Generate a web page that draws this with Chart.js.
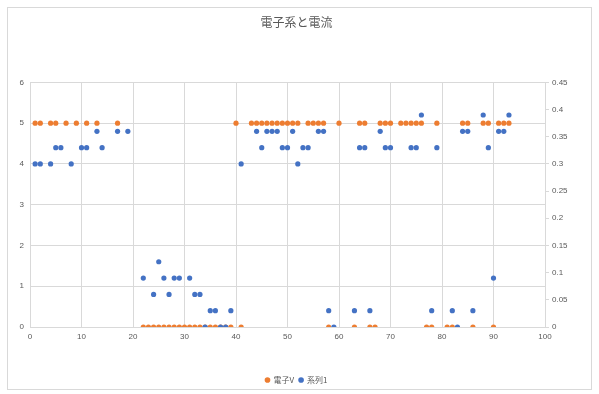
<!DOCTYPE html>
<html>
<head>
<meta charset="utf-8">
<script src="https://cdn.jsdelivr.net/npm/chart.js@4/dist/chart.umd.min.js"></script>
<style>
  html, body { margin: 0; padding: 0; background: #ffffff; }
  #wrap { width: 599px; height: 394px; position: relative; }
</style>
</head>
<body>
<div id="wrap"><canvas id="c" width="599" height="394"></canvas></div>
<script>
// 電子V (left axis)
const voltX = [1, 2, 4, 5, 7, 9, 11, 13, 17,
  22, 23, 24, 25, 26, 27, 28, 29, 30, 31, 32, 33, 34, 35, 36, 37, 38, 39,
  40, 41, 43, 44, 45, 46, 47, 48, 49, 50, 51, 52, 54, 55, 56, 57, 58, 60,
  63, 64, 65, 66, 67, 68, 69, 70, 72, 73, 74, 75, 76, 77, 78, 79,
  81, 82, 84, 85, 86, 88, 89, 90, 91, 92, 93];
const voltY = [5, 5, 5, 5, 5, 5, 5, 5, 5,
  0, 0, 0, 0, 0, 0, 0, 0, 0, 0, 0, 0, 0, 0, 0, 0, 0, 0,
  5, 0, 5, 5, 5, 5, 5, 5, 5, 5, 5, 5, 5, 5, 5, 5, 0, 5,
  0, 5, 5, 0, 0, 5, 5, 5, 5, 5, 5, 5, 5, 0, 0, 5,
  0, 0, 5, 5, 0, 5, 5, 0, 5, 5, 5];

// 系列1 (right axis)
const currX = [1, 2, 4, 5, 6, 8, 10, 11, 13, 14, 17, 19,
  22, 24, 25, 26, 27, 28, 29, 31, 32, 33, 34, 35, 36, 37, 38, 39,
  41, 44, 45, 46, 47, 48, 49, 50, 51, 52, 53, 54, 56, 57, 58, 59,
  63, 64, 65, 66, 68, 69, 70, 74, 75, 76, 78, 79,
  82, 83, 84, 85, 86, 88, 89, 90, 91, 92, 93];
const currY = [0.30, 0.30, 0.30, 0.33, 0.33, 0.30, 0.33, 0.33, 0.36, 0.33, 0.36, 0.36,
  0.09, 0.06, 0.12, 0.09, 0.06, 0.09, 0.09, 0.09, 0.06, 0.06, 0, 0.03, 0.03, 0, 0, 0.03,
  0.30, 0.36, 0.33, 0.36, 0.36, 0.36, 0.33, 0.33, 0.36, 0.30, 0.33, 0.33, 0.36, 0.36, 0.03, 0,
  0.03, 0.33, 0.33, 0.03, 0.36, 0.33, 0.33, 0.33, 0.33, 0.39, 0.03, 0.33,
  0.03, 0, 0.36, 0.36, 0.03, 0.39, 0.33, 0.09, 0.36, 0.36, 0.39];

const seriesNames = ['電子V', '系列1'];
const chartTitle = '電子系と電流';

const toPoints = (xs, ys) => xs.map((x, i) => ({ x: x, y: ys[i] }));

const gridColor = '#d9d9d9';
const textColor = '#595959';
const tickFont = { family: 'Liberation Sans', size: 8 };

// thin frame around the whole chart
const framePlugin = {
  id: 'frame',
  beforeDraw(chart) {
    const ctx = chart.ctx;
    ctx.save();
    ctx.fillStyle = '#ffffff';
    ctx.fillRect(0, 0, chart.width, chart.height);
    ctx.strokeStyle = '#d9d9d9';
    ctx.lineWidth = 1;
    ctx.strokeRect(7.5, 7.5, chart.width - 15, chart.height - 12);
    ctx.restore();
  }
};

new Chart(document.getElementById('c'), {
  type: 'scatter',
  data: {
    datasets: [
      {
        label: seriesNames[0],
        data: toPoints(voltX, voltY),
        yAxisID: 'y',
        backgroundColor: '#ED7D31',
        borderColor: '#ED7D31',
        pointRadius: 2.6,
        pointBorderWidth: 0,
        order: 1
      },
      {
        label: seriesNames[1],
        data: toPoints(currX, currY),
        yAxisID: 'y2',
        backgroundColor: '#4472C4',
        borderColor: '#4472C4',
        pointRadius: 2.6,
        pointBorderWidth: 0,
        order: 0
      }
    ]
  },
  options: {
    responsive: false,
    animation: false,
    layout: { padding: { left: 8, right: 14, top: 0, bottom: 0 } },
    plugins: {
      title: {
        display: true,
        text: chartTitle,
        color: textColor,
        font: { family: 'Noto Sans CJK JP', size: 12, weight: 'normal' },
        padding: { top: 15, bottom: 53 }
      },
      legend: {
        position: 'bottom',
        labels: {
          usePointStyle: true,
          pointStyle: 'circle',
          boxWidth: 4,
          boxHeight: 4,
          padding: 5,
          color: textColor,
          font: { family: 'Noto Sans CJK JP', size: 8 },
          sort: (a, b) => a.datasetIndex - b.datasetIndex
        }
      },
      tooltip: { enabled: false }
    },
    scales: {
      x: {
        type: 'linear',
        min: 0,
        max: 100,
        ticks: { stepSize: 10, color: textColor, font: tickFont, padding: 5 },
        grid: { color: gridColor, drawTicks: false },
        border: { color: gridColor },
        afterFit: (s) => { s.height = 44; }
      },
      y: {
        position: 'left',
        min: 0,
        max: 6,
        ticks: { stepSize: 1, color: textColor, font: tickFont, padding: 6 },
        grid: { color: gridColor, drawTicks: false },
        border: { color: gridColor },
        afterFit: (s) => { s.width = 22; }
      },
      y2: {
        position: 'right',
        min: 0,
        max: 0.45,
        ticks: {
          stepSize: 0.05,
          color: textColor,
          font: tickFont,
          padding: 3,
          callback: (v) => String(Math.round(v * 100) / 100)
        },
        grid: { drawOnChartArea: false, color: gridColor, tickLength: 4 },
        border: { color: gridColor },
        afterFit: (s) => { s.width = 40; }
      }
    }
  },
  plugins: [framePlugin]
});
</script>
</body>
</html>
